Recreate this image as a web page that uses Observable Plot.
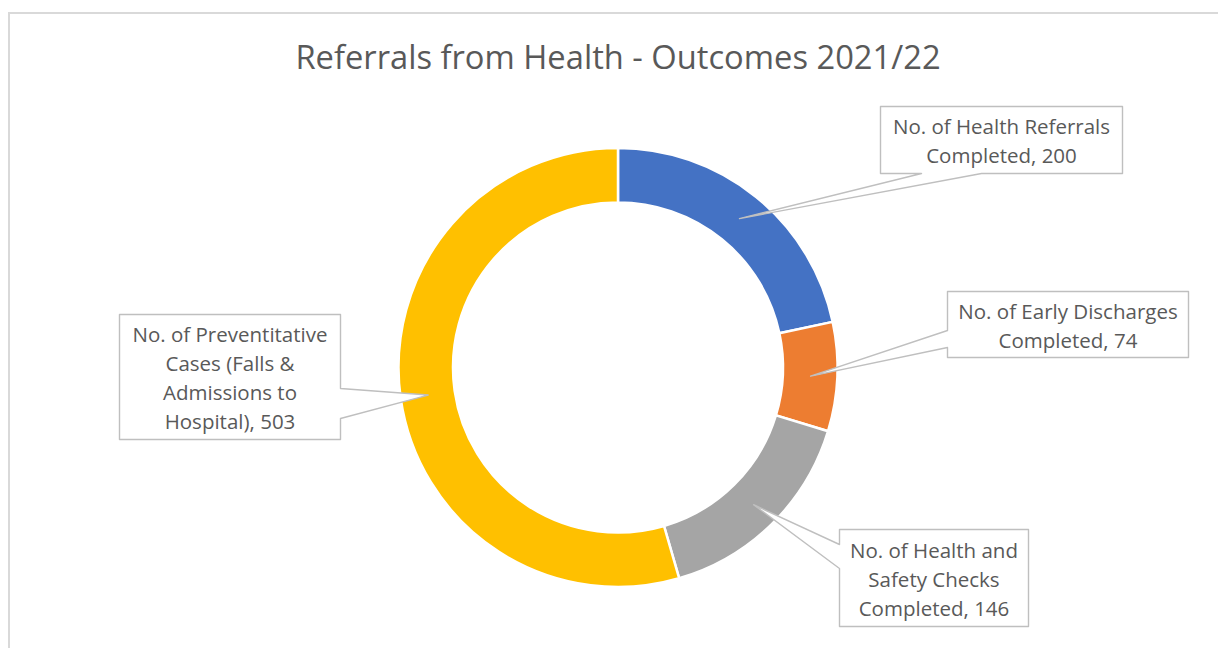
<!DOCTYPE html>
<html><head><meta charset="utf-8">
<script src="https://cdn.jsdelivr.net/npm/d3@7"></script>
<script src="https://cdn.jsdelivr.net/npm/@observablehq/plot@0.6"></script>
<style>
body{margin:0;background:#fff;width:1218px;height:648px;overflow:hidden;position:relative;font-family:"Open Sans",sans-serif}
#frame{position:absolute;left:8px;top:12px;width:1300px;height:800px;border:2px solid #d9d9d9;box-sizing:border-box}
#title{position:absolute;left:0;top:37px;width:1236px;text-align:center;color:#595959;font-size:32.7px;line-height:40px;white-space:nowrap}
#chart{position:absolute;left:0;top:0}
</style></head>
<body>
<div id="frame"></div>
<div id="chart"></div>
<div id="title">Referrals from Health - Outcomes 2021/22</div>
<script>
// ---- data ----
const categories = [
  "No. of Health Referrals\nCompleted",
  "No. of Early Discharges\nCompleted",
  "No. of Health and\nSafety Checks\nCompleted",
  "No. of Preventitative\nCases (Falls &\nAdmissions to\nHospital)"
];
const values = [200, 74, 146, 503];
const colors = ["#4472C4", "#ED7D31", "#A5A5A5", "#FFC000"];

// ---- layout (pixels) ----
const W = 1218, H = 648;
const CX = 618, CY = 367.5, R_OUT = 219.5, R_IN = 165;
const boxes = [
  {x1: 880, y1: 106, x2: 1122, y2: 173, side: "bottom", b1: 921, b2: 981},
  {x1: 947, y1: 291, x2: 1188, y2: 357, side: "left", b1: 330, b2: 347},
  {x1: 839, y1: 529, x2: 1028, y2: 626, side: "left", b1: 544, b2: 568},
  {x1: 119, y1: 314, x2: 340, y2: 439, side: "right", b1: 388, b2: 418}
];

const arcs = d3.pie().sort(null).value(d => d)(values);
const arcGen = d3.arc().innerRadius(R_IN).outerRadius(R_OUT);

const calloutPts = boxes.flatMap((b, i) => {
  const [dx, dy] = arcGen.centroid(arcs[i]);
  const tip = [CX + dx, CY + dy];
  let pts;
  if (b.side === "bottom") {
    pts = [[b.x1,b.y1],[b.x2,b.y1],[b.x2,b.y2],[b.b2,b.y2],tip,[b.b1,b.y2],[b.x1,b.y2],[b.x1,b.y1]];
  } else if (b.side === "left") {
    pts = [[b.x1,b.y1],[b.x2,b.y1],[b.x2,b.y2],[b.x1,b.y2],[b.x1,b.b2],tip,[b.x1,b.b1],[b.x1,b.y1]];
  } else {
    pts = [[b.x1,b.y1],[b.x2,b.y1],[b.x2,b.b1],tip,[b.x2,b.b2],[b.x2,b.y2],[b.x1,b.y2],[b.x1,b.y1]];
  }
  return pts.map(([x, y]) => ({k: i, x, y}));
});

const labels = boxes.map((b, i) => ({
  x: (b.x1 + b.x2) / 2,
  y: (b.y1 + b.y2) / 2 - 0.5,
  text: `${categories[i]}, ${values[i]}`
}));

function donut(index, scales) {
  const cx = scales.x(CX), cy = scales.y(CY);
  const k = scales.x(CX + 1) - cx;
  const g = d3.create("svg:g").attr("transform", `translate(${cx},${cy}) scale(${k})`);
  g.selectAll("path").data(arcs).join("path")
    .attr("d", arcGen)
    .attr("fill", (d, i) => colors[i])
    .attr("stroke", "white")
    .attr("stroke-width", 2.5)
    .attr("stroke-linejoin", "miter");
  return g.node();
}

const chart = Plot.plot({
  width: W, height: H, margin: 0,
  x: {domain: [0, W], range: [0, W], axis: null},
  y: {domain: [0, H], range: [0, H], axis: null},
  style: {background: "transparent", fontFamily: "Open Sans"},
  marks: [
    donut,
    Plot.line(calloutPts, {x: "x", y: "y", z: "k", fill: "white", stroke: "#bfbfbf", strokeWidth: 1.4, curve: "linear"}),
    Plot.text(labels, {x: "x", y: "y", text: "text", fontSize: 20.5, lineHeight: 1.42, fill: "#595959", fontFamily: "Open Sans"})
  ]
});
document.getElementById("chart").appendChild(chart);
</script>
</body></html>
